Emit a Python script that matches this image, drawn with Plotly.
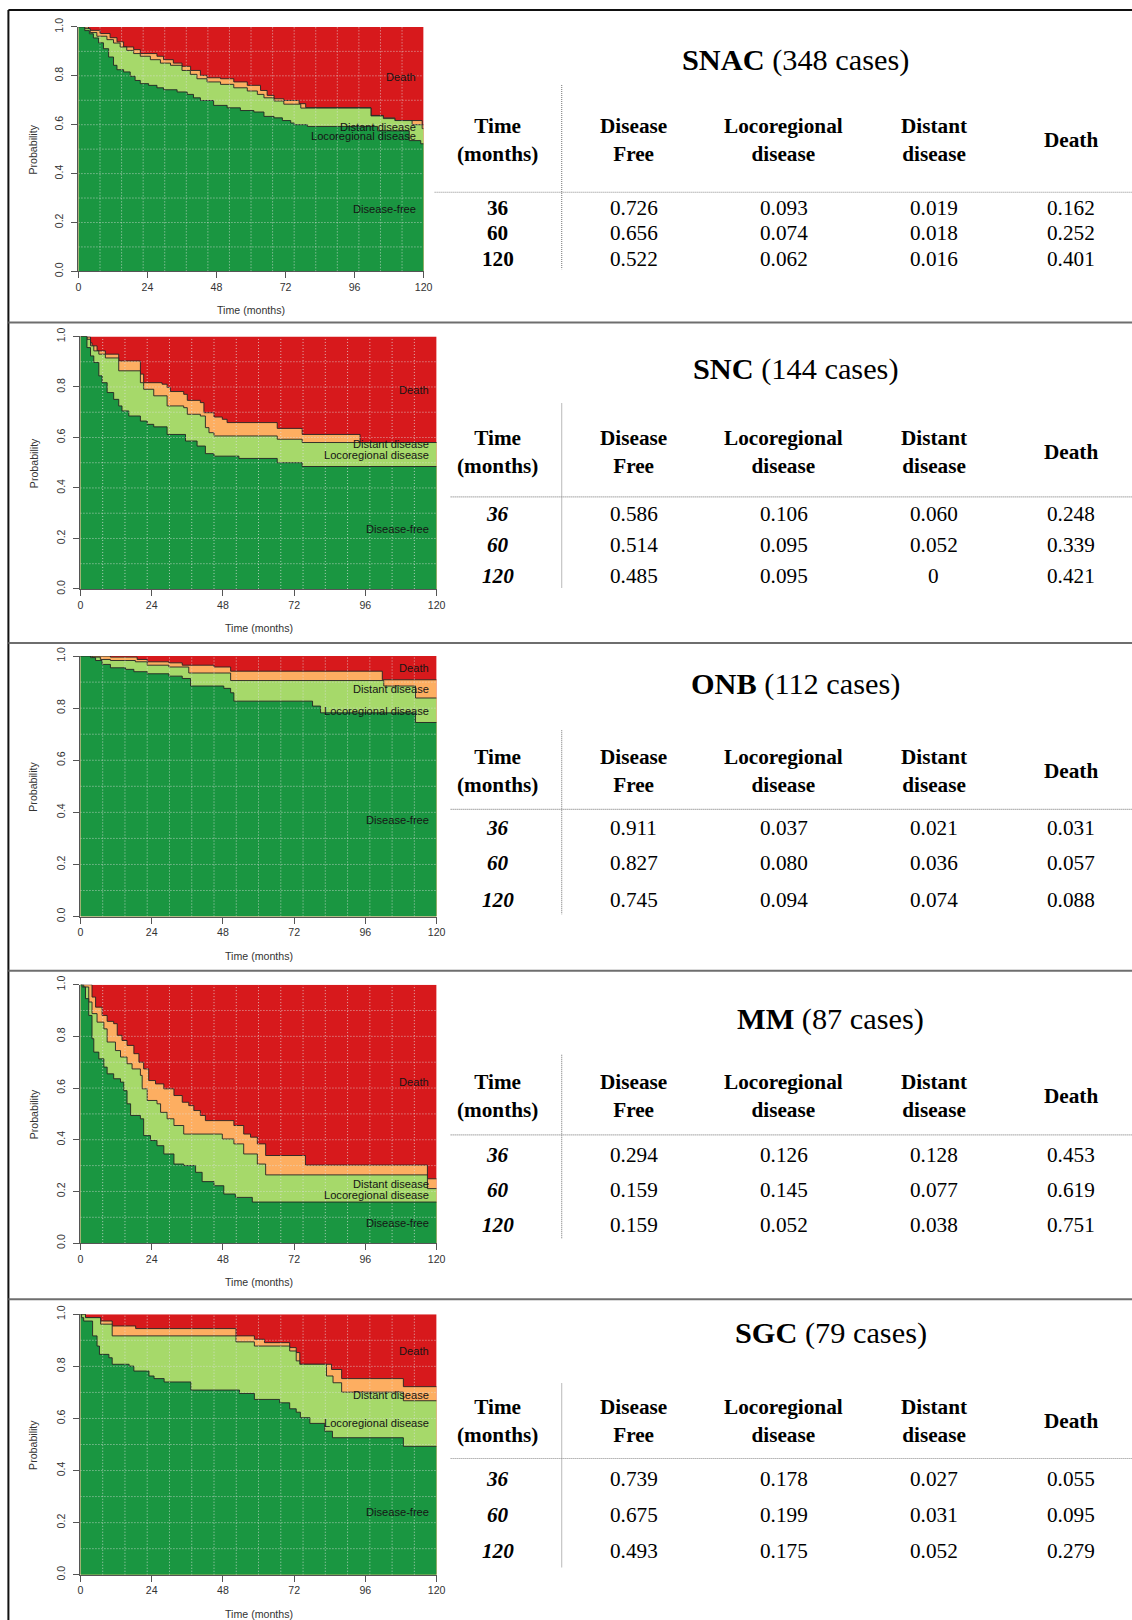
import plotly.graph_objects as go

# reference page size and the measured placement of the figure on the photographed page
REF_W, REF_H = 1132, 1620
OFFX, OFFY, S = 2.6, 9.1, 0.989
W = round((REF_W - OFFX) / S)
H = round((REF_H - OFFY) / S)

# ------------------------------------------------------------------ data
month_ticks = [0, 24, 48, 72, 96, 120]
prob_ticks = [0.0, 0.2, 0.4, 0.6, 0.8, 1.0]
state_labels = ["Death", "Distant disease", "Locoregional disease", "Disease-free"]
table_times = ["36", "60", "120"]
table_headers = ["Time<br>(months)", "Disease<br>Free", "Locoregional<br>disease", "Distant<br>disease", "Death"]
panel_names = ["SNAC", "SNC", "ONB", "MM", "SGC"]
panel_cases = [348, 144, 112, 87, 79]

# stacked cumulative probabilities (upper edge of each band), step functions
# SNAC
snac_free_t = [0, 2.2, 3.8, 5.2, 7, 8.7, 10.5, 12.2, 13.4, 15.7, 18, 19.7, 21.5, 24.4, 27.3, 29.6, 34.3, 37.8, 40, 42.4, 47, 51.7, 56.3, 61, 64.5, 68, 70.9, 73.8, 75, 79.6, 104, 115, 119]
snac_free_p = [1.0, 0.985, 0.972, 0.955, 0.935, 0.911, 0.877, 0.843, 0.825, 0.816, 0.798, 0.781, 0.768, 0.761, 0.751, 0.743, 0.734, 0.724, 0.710, 0.699, 0.679, 0.669, 0.658, 0.652, 0.634, 0.628, 0.617, 0.607, 0.600, 0.593, 0.575, 0.535, 0.522]
snac_loco_t = [0, 1.7, 4.1, 6.4, 9.9, 12.2, 14.5, 16.8, 19.2, 21.5, 25, 28.5, 32, 36, 38.9, 41.2, 44.7, 49.4, 54, 58.7, 62.2, 64.5, 68, 71.4, 77.3, 101.7, 106, 110, 116, 119.5]
snac_loco_p = [1.0, 0.993, 0.977, 0.962, 0.948, 0.934, 0.918, 0.904, 0.891, 0.880, 0.866, 0.852, 0.843, 0.822, 0.806, 0.788, 0.775, 0.765, 0.751, 0.738, 0.724, 0.710, 0.697, 0.684, 0.668, 0.636, 0.625, 0.617, 0.600, 0.584]
snac_dist_t = [0, 3.5, 4.1, 7.5, 11, 13.4, 15.7, 19.2, 21.5, 27.3, 29.6, 33, 36, 39, 42.4, 44.7, 49.4, 54, 58.7, 63.3, 65.6, 68, 71.4, 76.7, 79, 101.7, 106, 110, 119.5]
snac_dist_p = [1.0, 0.990, 0.986, 0.973, 0.956, 0.939, 0.918, 0.907, 0.891, 0.880, 0.866, 0.852, 0.839, 0.822, 0.802, 0.792, 0.788, 0.775, 0.761, 0.740, 0.720, 0.706, 0.699, 0.686, 0.670, 0.638, 0.628, 0.617, 0.600]
# SNC
snc_free_t = [0, 2.2, 3.4, 4.5, 6.2, 7.3, 9, 11.2, 12.9, 14, 16.3, 20.2, 22.5, 24.7, 29.2, 35.4, 39.3, 42.1, 45, 53.4, 66.3, 74.7]
snc_free_p = [1.0, 0.956, 0.923, 0.897, 0.844, 0.817, 0.778, 0.751, 0.725, 0.705, 0.685, 0.665, 0.652, 0.642, 0.612, 0.586, 0.566, 0.536, 0.526, 0.517, 0.500, 0.485]
snc_loco_t = [0, 2.2, 3.4, 4.5, 6.2, 8.4, 12.9, 20.2, 21.3, 24.7, 29.2, 34.8, 36, 40.4, 42.1, 43.3, 45, 66.3, 74.7]
snc_loco_p = [1.0, 0.989, 0.963, 0.943, 0.930, 0.915, 0.864, 0.817, 0.791, 0.765, 0.725, 0.718, 0.692, 0.685, 0.639, 0.619, 0.606, 0.593, 0.580]
snc_dist_t = [0, 1.7, 3.4, 3.9, 5.6, 8.4, 12.9, 20.2, 21.3, 27.5, 29.2, 30.3, 34.8, 36, 40.4, 41.6, 45, 47.8, 49.4, 66.3, 74.7, 94.2]
snc_dist_p = [1.0, 0.998, 0.975, 0.963, 0.943, 0.930, 0.903, 0.851, 0.817, 0.811, 0.798, 0.782, 0.771, 0.747, 0.738, 0.698, 0.681, 0.672, 0.659, 0.636, 0.612, 0.580]
# ONB
onb_free_t = [0, 3.4, 5.1, 7.3, 10.1, 15.2, 18, 22.5, 29.8, 34.3, 37.1, 48.3, 50.6, 51.7, 78.2, 80.9, 112.9]
onb_free_p = [1.0, 0.994, 0.983, 0.968, 0.955, 0.949, 0.940, 0.932, 0.923, 0.914, 0.885, 0.876, 0.859, 0.827, 0.808, 0.782, 0.745]
onb_loco_t = [0, 3.9, 6.7, 10.1, 18.5, 22.5, 29.8, 36.5, 50.6, 102.2, 112.9]
onb_loco_p = [1.0, 0.996, 0.987, 0.983, 0.978, 0.965, 0.958, 0.935, 0.906, 0.885, 0.839]
onb_dist_t = [0, 10.1, 19.1, 22.5, 29.8, 34.3, 45, 50.6, 101.7]
onb_dist_p = [1.0, 0.996, 0.987, 0.978, 0.974, 0.965, 0.958, 0.942, 0.909]
# MM
mm_free_t = [0, 0.6, 1.7, 2.8, 3.9, 4.5, 6.2, 7.9, 9, 11.2, 13.5, 14.6, 15.7, 16.9, 20.2, 21.3, 23.6, 25.8, 28.1, 31.5, 34.8, 38.8, 41, 45, 48.3, 52.2, 57.9]
mm_free_p = [1.0, 0.991, 0.946, 0.881, 0.791, 0.739, 0.713, 0.681, 0.655, 0.636, 0.623, 0.590, 0.539, 0.494, 0.481, 0.416, 0.397, 0.377, 0.345, 0.306, 0.300, 0.274, 0.238, 0.222, 0.190, 0.177, 0.159]
mm_loco_t = [0, 1.1, 2.8, 3.9, 5.6, 7.9, 9, 11.8, 13.5, 15.7, 17.4, 20.2, 20.8, 22.5, 25.8, 27, 29.2, 31.5, 34.8, 47.8, 51.7, 55, 59.6, 62.4, 116.9]
mm_loco_p = [1.0, 0.991, 0.933, 0.888, 0.855, 0.829, 0.778, 0.745, 0.720, 0.694, 0.674, 0.649, 0.597, 0.552, 0.539, 0.506, 0.481, 0.455, 0.422, 0.403, 0.384, 0.345, 0.306, 0.264, 0.211]
mm_dist_t = [0, 3.9, 5.1, 7.3, 9, 11.2, 12.4, 14, 15.7, 18, 19.7, 21.3, 23, 25.3, 28.1, 31.5, 34.3, 36.5, 38.2, 40.4, 42.1, 51.7, 55, 57.3, 59.6, 62.4, 75.8, 116.9]
mm_dist_p = [1.0, 0.952, 0.913, 0.881, 0.858, 0.849, 0.804, 0.784, 0.765, 0.733, 0.700, 0.674, 0.629, 0.616, 0.597, 0.571, 0.545, 0.532, 0.513, 0.494, 0.474, 0.455, 0.422, 0.410, 0.384, 0.339, 0.302, 0.249]
# SGC
sgc_free_t = [0, 0.4, 1.1, 4.1, 5.6, 6.4, 9.6, 10.7, 16.4, 18, 23.1, 24.8, 28.2, 37.2, 53.6, 58.6, 67.1, 70.5, 72.7, 74.1, 77.3, 82.3, 84.9, 108.8]
sgc_free_p = [1.0, 0.987, 0.974, 0.917, 0.878, 0.846, 0.833, 0.808, 0.801, 0.782, 0.763, 0.753, 0.740, 0.709, 0.696, 0.673, 0.660, 0.637, 0.624, 0.603, 0.581, 0.551, 0.526, 0.493]
sgc_loco_t = [0, 1.7, 6.8, 10.7, 52.4, 58.6, 70.5, 72.7, 73.9, 82.9, 85.1, 88, 108.8]
sgc_loco_p = [1.0, 0.987, 0.962, 0.917, 0.894, 0.878, 0.859, 0.821, 0.808, 0.763, 0.737, 0.701, 0.668]
sgc_dist_t = [0, 1.7, 6.8, 10.7, 18.6, 52.4, 58.6, 62, 70.5, 72.7, 73.9, 84.6, 88, 108.8]
sgc_dist_p = [1.0, 0.987, 0.974, 0.955, 0.945, 0.917, 0.904, 0.891, 0.872, 0.853, 0.808, 0.788, 0.753, 0.722]

# label heights (probability at right edge) : death, distant, loco, free
snac_label_y = [0.795, 0.590, 0.553, 0.255]
snc_label_y = [0.787, 0.573, 0.530, 0.239]
onb_label_y = [0.953, 0.872, 0.791, 0.370]
mm_label_y = [0.623, 0.227, 0.186, 0.078]
sgc_label_y = [0.859, 0.691, 0.582, 0.242]

# table values
snac_tab_free = [0.726, 0.656, 0.522]
snac_tab_loco = [0.093, 0.074, 0.062]
snac_tab_dist = [0.019, 0.018, 0.016]
snac_tab_death = [0.162, 0.252, 0.401]
snc_tab_free = [0.586, 0.514, 0.485]
snc_tab_loco = [0.106, 0.095, 0.095]
snc_tab_dist = [0.060, 0.052, 0]
snc_tab_death = [0.248, 0.339, 0.421]
onb_tab_free = [0.911, 0.827, 0.745]
onb_tab_loco = [0.037, 0.080, 0.094]
onb_tab_dist = [0.021, 0.036, 0.074]
onb_tab_death = [0.031, 0.057, 0.088]
mm_tab_free = [0.294, 0.159, 0.159]
mm_tab_loco = [0.126, 0.145, 0.052]
mm_tab_dist = [0.128, 0.077, 0.038]
mm_tab_death = [0.453, 0.619, 0.751]
sgc_tab_free = [0.739, 0.675, 0.493]
sgc_tab_loco = [0.178, 0.199, 0.175]
sgc_tab_dist = [0.027, 0.031, 0.052]
sgc_tab_death = [0.055, 0.095, 0.279]

curves = [
    (snac_free_t, snac_free_p, snac_loco_t, snac_loco_p, snac_dist_t, snac_dist_p),
    (snc_free_t, snc_free_p, snc_loco_t, snc_loco_p, snc_dist_t, snc_dist_p),
    (onb_free_t, onb_free_p, onb_loco_t, onb_loco_p, onb_dist_t, onb_dist_p),
    (mm_free_t, mm_free_p, mm_loco_t, mm_loco_p, mm_dist_t, mm_dist_p),
    (sgc_free_t, sgc_free_p, sgc_loco_t, sgc_loco_p, sgc_dist_t, sgc_dist_p),
]
label_ys = [snac_label_y, snc_label_y, onb_label_y, mm_label_y, sgc_label_y]
tables = [
    (snac_tab_free, snac_tab_loco, snac_tab_dist, snac_tab_death),
    (snc_tab_free, snc_tab_loco, snc_tab_dist, snc_tab_death),
    (onb_tab_free, onb_tab_loco, onb_tab_dist, onb_tab_death),
    (mm_tab_free, mm_tab_loco, mm_tab_dist, mm_tab_death),
    (sgc_tab_free, sgc_tab_loco, sgc_tab_dist, sgc_tab_death),
]

# ------------------------------------------------------------------ layout (reference page pixels)
boxes = [(78, 423, 27, 271), (80, 436, 336, 588), (80, 436, 655, 915), (80, 436, 983, 1241), (80, 436, 1312, 1572)]
title_pos = [(795, 60), (795, 368), (795, 683), (830, 1017), (830, 1331)]
header_y = [139.5, 451.5, 769.5, 1094.5, 1419]
hline = [(434, 192), (450, 496), (450, 808), (450, 1133), (450, 1456)]
vline = [(85, 269), (403, 587), (729, 913), (1053, 1237), (1381, 1565)]
row_y = [(208, 233, 259), (513, 544, 575), (827, 862, 898), (1153, 1188, 1223), (1476, 1512, 1548)]
col_x = [497, 633, 783, 933, 1070]
dividers = [322, 642, 969, 1297]

RED, ORANGE, LGREEN, DGREEN = "#D7191C", "#FDAE61", "#A6D96A", "#1A9641"
EDGE = "rgba(35,35,35,0.9)"
GRID = "rgba(225,225,225,0.75)"
SANS = "Liberation Sans, Arial, sans-serif"
SERIF = "Liberation Serif, Times New Roman, serif"


def px(x):
    return ((x - OFFX) / S) / W


def py(y):
    return 1 - ((y - OFFY) / S) / H


def fs(v):
    return round(v / S, 2)


def fmt(v):
    return "0" if v == 0 else f"{v:.3f}"


def ext(t, p):
    return list(t) + [120], list(p) + [p[-1]]


fig = go.Figure()
shapes = []
annotations = []

for i in range(5):
    k = i + 1
    xa = "x" if k == 1 else f"x{k}"
    ya = "y" if k == 1 else f"y{k}"
    ft, fp, lt, lp, dt, dp = curves[i]
    fig.add_trace(go.Scatter(x=[0, 120], y=[1, 1], mode="lines", fill="tozeroy",
                             fillcolor=RED, line=dict(width=0), xaxis=xa, yaxis=ya,
                             hoverinfo="skip", showlegend=False))
    for (tt, pp, col) in [(dt, dp, ORANGE), (lt, lp, LGREEN), (ft, fp, DGREEN)]:
        xs, ys = ext(tt, pp)
        fig.add_trace(go.Scatter(x=xs, y=ys, mode="lines", fill="tozeroy", fillcolor=col,
                                 line=dict(color=EDGE, width=1, shape="hv"),
                                 xaxis=xa, yaxis=ya, hoverinfo="skip", showlegend=False))
    x0, x1, y0, y1 = boxes[i]
    axis_common = dict(showgrid=False, zeroline=False, showline=True, linecolor="#555",
                       linewidth=1, ticks="outside", ticklen=6, tickcolor="#555",
                       tickfont=dict(family=SANS, size=fs(10.5), color="#333"))
    fig.update_layout(**{
        ("xaxis" if k == 1 else f"xaxis{k}"): dict(domain=[px(x0), px(x1)], anchor=ya, range=[0, 120],
                                                   tickvals=month_ticks, **axis_common),
        ("yaxis" if k == 1 else f"yaxis{k}"): dict(domain=[py(y1), py(y0)], anchor=xa, range=[0, 1],
                                                   tickvals=prob_ticks, tickformat=".1f", tickangle=-90,
                                                   ticklabelstandoff=4, **axis_common),
    })
    g = 7.5
    while g < 120:
        shapes.append(dict(type="line", xref=xa, yref=ya, x0=g, x1=g, y0=0, y1=1, layer="above",
                           line=dict(color=GRID, width=1, dash="1px,2px")))
        g += 7.5
    for j in range(1, 10):
        shapes.append(dict(type="line", xref=xa, yref=ya, x0=0, x1=120, y0=j / 10, y1=j / 10, layer="above",
                           line=dict(color=GRID, width=1, dash="1px,2px")))
    for lab, yy in zip(state_labels, label_ys[i]):
        annotations.append(dict(x=120, y=yy, xref=xa, yref=ya, xanchor="right", yanchor="middle",
                                xshift=-6, text=lab, showarrow=False,
                                font=dict(family=SANS, size=fs(11), color="#151515")))
    annotations.append(dict(x=px((x0 + x1) / 2), y=py(y1 + 39), xref="paper", yref="paper",
                            text="Time (months)", showarrow=False, xanchor="center", yanchor="middle",
                            font=dict(family=SANS, size=fs(10.5), color="#333")))
    annotations.append(dict(x=px(33), y=py((y0 + y1) / 2), xref="paper", yref="paper",
                            text="Probability", showarrow=False, textangle=-90, xanchor="center",
                            yanchor="middle", font=dict(family=SANS, size=fs(10.5), color="#333")))
    tx, ty = title_pos[i]
    annotations.append(dict(x=px(tx), y=py(ty), xref="paper", yref="paper", showarrow=False,
                            text=f"<b>{panel_names[i]}</b> ({panel_cases[i]} cases)",
                            xanchor="center", yanchor="middle",
                            font=dict(family=SERIF, size=fs(30), color="#000")))
    for cx, htxt in zip(col_x, table_headers):
        annotations.append(dict(x=px(cx), y=py(header_y[i]), xref="paper", yref="paper", showarrow=False,
                                text=f"<b>{htxt}</b>", xanchor="center", yanchor="middle",
                                font=dict(family=SERIF, size=fs(21), color="#000")))
    for r, tlab in enumerate(table_times):
        ttxt = f"<b>{tlab}</b>" if i == 0 else f"<b><i>{tlab}</i></b>"
        annotations.append(dict(x=px(col_x[0]), y=py(row_y[i][r]), xref="paper", yref="paper",
                                showarrow=False, text=ttxt, xanchor="center", yanchor="middle",
                                font=dict(family=SERIF, size=fs(21), color="#000")))
        for c, col_vals in enumerate(tables[i]):
            annotations.append(dict(x=px(col_x[c + 1]), y=py(row_y[i][r]), xref="paper", yref="paper",
                                    showarrow=False, text=fmt(col_vals[r]), xanchor="center",
                                    yanchor="middle", font=dict(family=SERIF, size=fs(21), color="#000")))
    hx, hy = hline[i]
    shapes.append(dict(type="line", xref="paper", yref="paper", x0=px(hx), x1=1, y0=py(hy), y1=py(hy),
                       line=dict(color="#8a8a8a", width=1.2, dash="1px,1px")))
    va, vb = vline[i]
    shapes.append(dict(type="line", xref="paper", yref="paper", x0=px(561), x1=px(561), y0=py(va), y1=py(vb),
                       line=dict(color="#8a8a8a", width=1.2, dash="1px,1px")))

shapes.append(dict(type="line", xref="paper", yref="paper", x0=px(8), x1=1, y0=py(10), y1=py(10),
                   line=dict(color="#111", width=2)))
shapes.append(dict(type="line", xref="paper", yref="paper", x0=px(8), x1=px(8), y0=py(10), y1=0,
                   line=dict(color="#111", width=2)))
for d in dividers:
    shapes.append(dict(type="line", xref="paper", yref="paper", x0=px(8), x1=1, y0=py(d), y1=py(d),
                       line=dict(color="#6e6e6e", width=2)))

fig.update_layout(width=W, height=H, margin=dict(l=0, r=0, t=0, b=0),
                  paper_bgcolor="white", plot_bgcolor="white",
                  shapes=shapes, annotations=annotations, showlegend=False)

fig.write_html("out.html")
